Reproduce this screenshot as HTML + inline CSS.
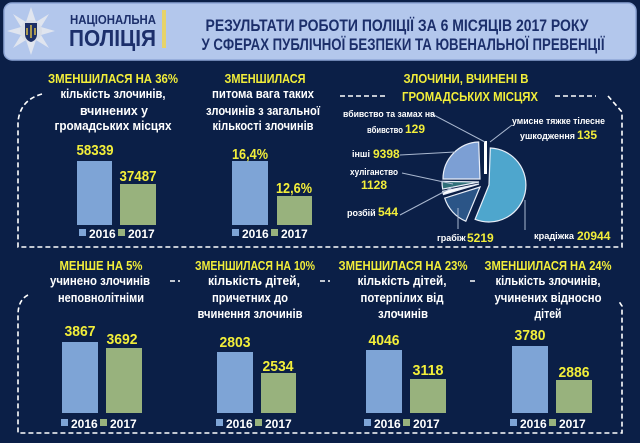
<!DOCTYPE html>
<html><head><meta charset="utf-8"><style>
html,body{margin:0;padding:0;background:#0b1f47;}
svg{display:block;font-family:"Liberation Sans",sans-serif;font-weight:bold;}
</style></head><body>
<svg width="640" height="443" viewBox="0 0 640 443" xmlns="http://www.w3.org/2000/svg">
<rect width="640" height="443" fill="#0b1f47"/>
<rect x="4" y="3" width="632" height="57" rx="8" fill="#b3c7ec" stroke="#8ea6d6" stroke-width="1.5"/>
<g transform="translate(31,31)">
<polygon points="0,-24 5,-9 18,-17 10,-4 24,0 10,4 18,17 5,9 0,24 -5,9 -18,17 -10,4 -24,0 -10,-4 -18,-17 -5,-9" fill="#e4e8f0" opacity="0.9"/>
<circle r="11" fill="#d9dee8"/>
<path d="M-6,-8 H6 V3 Q6,9 0,11 Q-6,9 -6,3 Z" fill="#1d2f66"/>
<path d="M0,-6 V7 M-4,-3 V4 M4,-3 V4" stroke="#e8c84a" stroke-width="1.4"/>
</g>
<text x="70" y="24" font-size="13" fill="#1c2f6b" textLength="86" lengthAdjust="spacingAndGlyphs">НАЦІОНАЛЬНА</text>
<text x="69" y="46" font-size="23" fill="#1c2f6b" textLength="87" lengthAdjust="spacingAndGlyphs">ПОЛІЦІЯ</text>
<rect x="162" y="10" width="4" height="38" fill="#e6d36a"/>
<text x="397" y="31" font-size="17" fill="#1c2f6b" text-anchor="middle" textLength="383" lengthAdjust="spacingAndGlyphs">РЕЗУЛЬТАТИ РОБОТИ ПОЛІЦІЇ ЗА 6 МІСЯЦІВ 2017 РОКУ</text>
<text x="403" y="50" font-size="17" fill="#1c2f6b" text-anchor="middle" textLength="403" lengthAdjust="spacingAndGlyphs">У СФЕРАХ ПУБЛІЧНОЇ БЕЗПЕКИ ТА ЮВЕНАЛЬНОЇ ПРЕВЕНЦІЇ</text>

<g fill="none" stroke="#ffffff" stroke-width="1.6" stroke-dasharray="5,3">
<path d="M42,94 Q20,100 18,122 L18,247 L622,247 L622,112 L608,96"/>
<path d="M340,96 H388 M555,96 H596"/>
<path d="M28,295 Q18,300 18,315 L18,433 L622,433 L622,306 L618,300"/>
<path d="M170,281 H180 M320,281 H330 M470,281 H478"/>
</g>

<g font-size="13" text-anchor="middle">
<text x="113" y="83" fill="#f2ee3a" textLength="130" lengthAdjust="spacingAndGlyphs">ЗМЕНШИЛАСЯ НА 36%</text>
<text x="113" y="98" fill="#fff" textLength="105" lengthAdjust="spacingAndGlyphs">кількість злочинів,</text>
<text x="114" y="115" fill="#fff" textLength="68" lengthAdjust="spacingAndGlyphs">вчинених у</text>
<text x="113" y="130" fill="#fff" textLength="117" lengthAdjust="spacingAndGlyphs">громадських місцях</text>
<text x="265" y="83" fill="#f2ee3a" textLength="81" lengthAdjust="spacingAndGlyphs">ЗМЕНШИЛАСЯ</text>
<text x="263" y="98" fill="#fff" textLength="102" lengthAdjust="spacingAndGlyphs">питома вага таких</text>
<text x="263" y="115" fill="#fff" textLength="114" lengthAdjust="spacingAndGlyphs">злочинів з загальної</text>
<text x="263" y="130" fill="#fff" textLength="101" lengthAdjust="spacingAndGlyphs">кількості злочинів</text>
</g>
<rect x="77" y="161" width="35" height="64" fill="#7ea4d6"/>
<rect x="120" y="184" width="36" height="41" fill="#98b27d"/>
<rect x="232" y="161" width="36" height="64" fill="#7ea4d6"/>
<rect x="277" y="196" width="35" height="29" fill="#98b27d"/>
<g font-size="15" fill="#f2ee3a" text-anchor="middle" lengthAdjust="spacingAndGlyphs">
<text x="95" y="155" textLength="37" lengthAdjust="spacingAndGlyphs">58339</text>
<text x="138" y="181" textLength="37" lengthAdjust="spacingAndGlyphs">37487</text>
<text x="250" y="159" textLength="36" lengthAdjust="spacingAndGlyphs">16,4%</text>
<text x="294" y="193" textLength="36" lengthAdjust="spacingAndGlyphs">12,6%</text>
</g>

<text x="466" y="83" font-size="13" fill="#f2ee3a" text-anchor="middle" textLength="125" lengthAdjust="spacingAndGlyphs">ЗЛОЧИНИ, ВЧИНЕНІ В</text>
<text x="470" y="101" font-size="13" fill="#f2ee3a" text-anchor="middle" textLength="136" lengthAdjust="spacingAndGlyphs">ГРОМАДСЬКИХ МІСЦЯХ</text>
<g stroke="#e8eef8" stroke-width="1.2">
<path d="M489,185 L490.3,148 A37,37 0 1 1 475.1,219.3 Z" fill="#4ea6cd"/>
<path d="M480,187 L465.8,221.2 A37,37 0 0 1 444.7,198.1 Z" fill="#2b5587"/>
<path d="M479,184 L443.5,194.5 A37,37 0 0 1 442.7,191.4 Z" fill="#ffffff"/>
<path d="M479,182 L442.7,189.1 A37,37 0 0 1 442,181.4 Z" fill="#2f6f78"/>
<path d="M480,179 L443,179 A37,37 0 0 1 478.7,142 Z" fill="#7c9fd4"/>
</g>
<rect x="484" y="141" width="3" height="33" fill="#ffffff"/>
<g stroke="#aab8d0" stroke-width="1" fill="none">
<path d="M430,113 L485,142"/>
<path d="M512,125 L490,142"/>
<path d="M400,155 L455,152"/>
<path d="M402,173 L453,184"/>
<path d="M400,215 L453,187"/>
<path d="M458,208 V229"/>
<path d="M525,200 V230"/>
</g>
<g font-size="9" fill="#fff">
<text x="343" y="117" textLength="92" lengthAdjust="spacingAndGlyphs">вбивство та замах на</text>
<text x="367" y="133" textLength="36" lengthAdjust="spacingAndGlyphs">вбивство</text>
<text x="512" y="124" textLength="93" lengthAdjust="spacingAndGlyphs">умисне тяжке тілесне</text>
<text x="520" y="139" textLength="55" lengthAdjust="spacingAndGlyphs">ушкодження</text>
<text x="352" y="157">інші</text>
<text x="350" y="175" textLength="48" lengthAdjust="spacingAndGlyphs">хуліганство</text>
<text x="347" y="216">розбій</text>
<text x="437" y="241">грабіж</text>
<text x="534" y="239" textLength="40" lengthAdjust="spacingAndGlyphs">крадіжка</text>
</g>
<g font-size="12" fill="#f2ee3a">
<text x="405" y="133">129</text>
<text x="577" y="139">135</text>
<text x="373" y="158">9398</text>
<text x="361" y="189">1128</text>
<text x="378" y="216">544</text>
<text x="467" y="242">5219</text>
<text x="577" y="240">20944</text>
</g>

<g font-size="12" fill="#fff">
<rect x="79" y="229" width="7" height="7" fill="#7ea4d6"/><text x="89" y="238">2016</text>
<rect x="118" y="229" width="7" height="7" fill="#98b27d"/><text x="128" y="238">2017</text>
<rect x="232" y="229" width="7" height="7" fill="#7ea4d6"/><text x="242" y="238">2016</text>
<rect x="271" y="229" width="7" height="7" fill="#98b27d"/><text x="281" y="238">2017</text>
</g>

<g font-size="13" text-anchor="middle">
<text x="101" y="270" fill="#f2ee3a" textLength="83" lengthAdjust="spacingAndGlyphs">МЕНШЕ НА 5%</text>
<text x="100" y="285" fill="#fff" textLength="100" lengthAdjust="spacingAndGlyphs">учинено злочинів</text>
<text x="101" y="302" fill="#fff" textLength="86" lengthAdjust="spacingAndGlyphs">неповнолітніми</text>
<text x="255" y="270" fill="#f2ee3a" textLength="120" lengthAdjust="spacingAndGlyphs">ЗМЕНШИЛАСЯ НА 10%</text>
<text x="254" y="285" fill="#fff" textLength="92" lengthAdjust="spacingAndGlyphs">кількість дітей,</text>
<text x="250" y="302" fill="#fff" textLength="76" lengthAdjust="spacingAndGlyphs">причетних до</text>
<text x="250" y="318" fill="#fff" textLength="105" lengthAdjust="spacingAndGlyphs">вчинення злочинів</text>
<text x="403" y="270" fill="#f2ee3a" textLength="129" lengthAdjust="spacingAndGlyphs">ЗМЕНШИЛАСЯ НА 23%</text>
<text x="402" y="285" fill="#fff" textLength="89" lengthAdjust="spacingAndGlyphs">кількість дітей,</text>
<text x="402" y="302" fill="#fff" textLength="83" lengthAdjust="spacingAndGlyphs">потерпілих від</text>
<text x="403" y="318" fill="#fff" textLength="50" lengthAdjust="spacingAndGlyphs">злочинів</text>
<text x="548" y="270" fill="#f2ee3a" textLength="127" lengthAdjust="spacingAndGlyphs">ЗМЕНШИЛАСЯ НА 24%</text>
<text x="548" y="285" fill="#fff" textLength="105" lengthAdjust="spacingAndGlyphs">кількість злочинів,</text>
<text x="548" y="302" fill="#fff" textLength="107" lengthAdjust="spacingAndGlyphs">учинених відносно</text>
<text x="548" y="318" fill="#fff" textLength="27" lengthAdjust="spacingAndGlyphs">дітей</text>
</g>

<rect x="62" y="342" width="36" height="71" fill="#7ea4d6"/>
<rect x="106" y="348" width="36" height="65" fill="#98b27d"/>
<rect x="217" y="352" width="36" height="61" fill="#7ea4d6"/>
<rect x="261" y="373" width="35" height="40" fill="#98b27d"/>
<rect x="366" y="350" width="36" height="63" fill="#7ea4d6"/>
<rect x="410" y="379" width="36" height="34" fill="#98b27d"/>
<rect x="512" y="346" width="36" height="67" fill="#7ea4d6"/>
<rect x="556" y="380" width="36" height="33" fill="#98b27d"/>
<g font-size="15" fill="#f2ee3a" text-anchor="middle">
<text x="80" y="336" textLength="31" lengthAdjust="spacingAndGlyphs">3867</text>
<text x="122" y="344" textLength="31" lengthAdjust="spacingAndGlyphs">3692</text>
<text x="235" y="347" textLength="31" lengthAdjust="spacingAndGlyphs">2803</text>
<text x="278" y="371" textLength="31" lengthAdjust="spacingAndGlyphs">2534</text>
<text x="384" y="345" textLength="31" lengthAdjust="spacingAndGlyphs">4046</text>
<text x="428" y="375" textLength="31" lengthAdjust="spacingAndGlyphs">3118</text>
<text x="530" y="340" textLength="31" lengthAdjust="spacingAndGlyphs">3780</text>
<text x="574" y="377" textLength="31" lengthAdjust="spacingAndGlyphs">2886</text>
</g>
<g font-size="12" fill="#fff">
<rect x="61" y="419" width="7" height="7" fill="#7ea4d6"/><text x="71" y="428">2016</text>
<rect x="100" y="419" width="7" height="7" fill="#98b27d"/><text x="110" y="428">2017</text>
<rect x="216" y="419" width="7" height="7" fill="#7ea4d6"/><text x="226" y="428">2016</text>
<rect x="255" y="419" width="7" height="7" fill="#98b27d"/><text x="265" y="428">2017</text>
<rect x="364" y="419" width="7" height="7" fill="#7ea4d6"/><text x="374" y="428">2016</text>
<rect x="403" y="419" width="7" height="7" fill="#98b27d"/><text x="413" y="428">2017</text>
<rect x="510" y="419" width="7" height="7" fill="#7ea4d6"/><text x="520" y="428">2016</text>
<rect x="549" y="419" width="7" height="7" fill="#98b27d"/><text x="559" y="428">2017</text>
</g>
</svg>
</body></html>
